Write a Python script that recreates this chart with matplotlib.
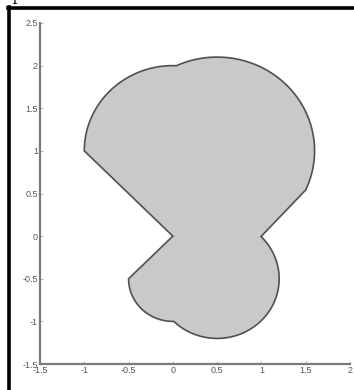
import numpy as np
import matplotlib
matplotlib.use("Agg")
import matplotlib.pyplot as plt
from matplotlib.lines import Line2D

# Shape definition: union of circular lobes joined by straight segments
upper_left_center, upper_left_r = (0.0, 1.0), 1.0
upper_right_center, upper_right_r = (0.5, 1.0), 1.1
lower_right_center, lower_right_r = (0.5, -0.5), 0.7
lower_left_center, lower_left_r = (0.0, -0.5), 0.5
waist_left = (0.0, 0.0)
waist_right = (1.0, 0.0)

xticks = [-1.5, -1, -0.5, 0, 0.5, 1, 1.5, 2]
yticks = [-1.5, -1, -0.5, 0, 0.5, 1, 1.5, 2, 2.5]
xticklabels = ["-1.5", "-1", "-0.5", "0", "0.5", "1", "1.5", "2"]
yticklabels = ["-1.5", "-1", "-0.5", "0", "0.5", "1", "1.5", "2", "2.5"]


def arc(c, r, a0, a1, n=200):
    t = np.linspace(a0, a1, n)
    return np.column_stack([c[0] + r * np.cos(t), c[1] + r * np.sin(t)])


def intersect_x(c1, r1, c2, r2):
    # circles with equal y-centre
    return (r1**2 - r2**2 + c2[0]**2 - c1[0]**2) / (2 * (c2[0] - c1[0]))


# upper lobes
xi = intersect_x(upper_left_center, upper_left_r, upper_right_center, upper_right_r)
yi = upper_left_center[1] + np.sqrt(upper_left_r**2 - (xi - upper_left_center[0])**2)
aA = np.arctan2(yi - upper_left_center[1], xi - upper_left_center[0])
aB = np.arctan2(yi - upper_right_center[1], xi - upper_right_center[0])
xe = 1.5
ye = upper_right_center[1] - np.sqrt(upper_right_r**2 - (xe - upper_right_center[0])**2)
aBe = np.arctan2(ye - upper_right_center[1], xe - upper_right_center[0])

# lower lobes
xl = intersect_x(lower_left_center, lower_left_r, lower_right_center, lower_right_r)
yl = lower_left_center[1] - np.sqrt(lower_left_r**2 - (xl - lower_left_center[0])**2)
aC0 = np.arctan2(waist_right[1] - lower_right_center[1], waist_right[0] - lower_right_center[0])
aC1 = np.arctan2(yl - lower_right_center[1], xl - lower_right_center[0])
aD0 = np.arctan2(yl - lower_left_center[1], xl - lower_left_center[0])

pts = [np.array([waist_left])]
pts.append(arc(upper_left_center, upper_left_r, np.pi, aA))
pts.append(arc(upper_right_center, upper_right_r, aB, aBe))
pts.append(np.array([waist_right]))
pts.append(arc(lower_right_center, lower_right_r, aC0, aC1))
pts.append(arc(lower_left_center, lower_left_r, aD0, -np.pi))
pts.append(np.array([waist_left]))
P = np.vstack(pts)

W, H = 354, 390
fig = plt.figure(figsize=(W / 100, H / 100), dpi=100)
ax = fig.add_axes([40 / W, 26 / H, 310 / W, 341 / H])
ax.fill(P[:, 0], P[:, 1], facecolor="#c9c9c9", edgecolor="#505050", linewidth=1.2)

ax.set_xlim(-1.5, 2.0)
ax.set_ylim(-1.5, 2.5)
ax.set_xticks(xticks)
ax.set_xticklabels(xticklabels)
ax.set_yticks(yticks)
ax.set_yticklabels(yticklabels)
for s in ["top", "right"]:
    ax.spines[s].set_visible(False)
for s in ["left", "bottom"]:
    ax.spines[s].set_color("#7a7a7a")
    ax.spines[s].set_linewidth(1.6)
ax.tick_params(direction="in", length=2.5, width=0.6, color="#aaaaaa",
               labelsize=6.5, labelcolor="#555555", pad=1.5)
for lab in ax.get_xticklabels() + ax.get_yticklabels():
    lab.set_family("Liberation Sans")

# scanned page frame
fig.add_artist(Line2D([8 / W, 1.0], [1 - 7.5 / H, 1 - 7.5 / H], color="black", lw=2.6,
                      transform=fig.transFigure))
fig.add_artist(Line2D([8.5 / W, 8.5 / W], [0, 1 - 6.5 / H], color="black", lw=2.6,
                      transform=fig.transFigure))
fig.text(10 / W, 1.0, "1", fontsize=9, family="DejaVu Serif", va="center", ha="left")

fig.savefig("out.png", dpi=100)
